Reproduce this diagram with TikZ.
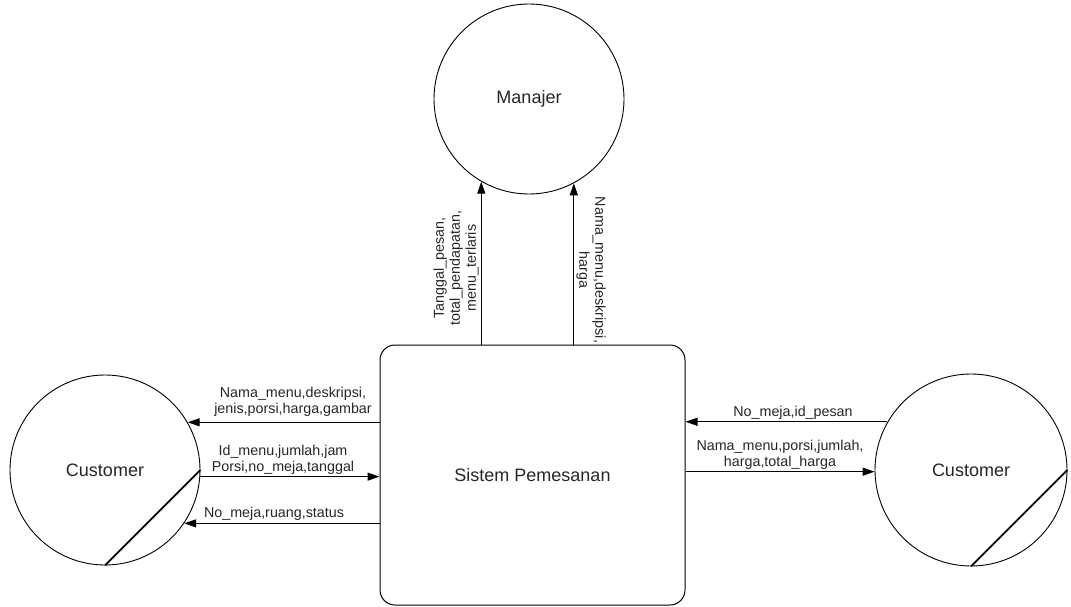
\documentclass[tikz,border=0pt]{standalone}
\usepackage{fontspec}
\setmainfont{Liberation Sans}
\usetikzlibrary{arrows.meta}
\tikzset{
  proc/.style={circle, draw=black, line width=0.9pt, minimum size=190pt, inner sep=0pt, font=\fontsize{18}{21}\selectfont, text=black!85},
  sysbox/.style={draw=black, line width=1pt, rounded corners=15pt, minimum width=305pt, minimum height=260pt, inner sep=0pt, font=\fontsize{18}{21}\selectfont, text=black!85},
  flow/.style={draw=black, line width=1.2pt, -{Triangle[length=12pt,width=8pt]}},
  lbl/.style={inner sep=0pt, align=center, font=\fontsize{14.3}{16}\selectfont, text=black!85},
  diag/.style={draw=black, line width=1.8pt}
}
\begin{document}
\begin{tikzpicture}[x=1pt,y=-1pt]
\useasboundingbox (0,0) rectangle (1071,607);
\node[proc] (manajer) at (529,99) {Manajer};
\node[proc] (custL) at (105,470) {Customer};
\node[proc, minimum size=192pt] (custR) at (971,470) {Customer};
\node[sysbox] (sys) at (532.5,475) {Sistem Pemesanan};

\draw[diag] (custL.0) -- (custL.-90);
\draw[diag] (custR.0) -- (custR.-90);

% to Manajer
\draw[flow] (sys.north -| manajer.-120) -- (manajer.-120);
\draw[flow] (sys.north -| manajer.-62.4) -- (manajer.-62.4);
\node[lbl, rotate=90] (lt1) at (456,268) {Tanggal\_pesan,\\total\_pendapatan,\\menu\_terlaris};
\node[lbl, rotate=-90] (lt2) at (591,270) {Nama\_menu,deskripsi,\\harga};

% left customer
\draw[flow] (sys.west |- custL.30.4) -- (custL.30.4);
\draw[flow] (custL.-4.8) -- (sys.west |- custL.-4.8);
\draw[flow] (sys.west |- custL.-34.6) -- (custL.-34.6);
\node[lbl] (ll1) at (293,402) {Nama\_menu,deskripsi,\\jenis,porsi,harga,gambar};
\node[lbl] (ll2) at (283,460) {Id\_menu,jumlah,jam\\Porsi,no\_meja,tanggal};
\node[lbl] (ll3) at (274,514) {No\_meja,ruang,status};

% right customer
\draw[flow] (custR.150.7) -- (sys.east |- custR.150.7);
\draw[flow] (sys.east |- custR.181.8) -- (custR.181.8);
\node[lbl] (rl1) at (793,413) {No\_meja,id\_pesan};
\node[lbl] (rl2) at (780,455) {Nama\_menu,porsi,jumlah,\\harga,total\_harga};
\end{tikzpicture}
\end{document}
